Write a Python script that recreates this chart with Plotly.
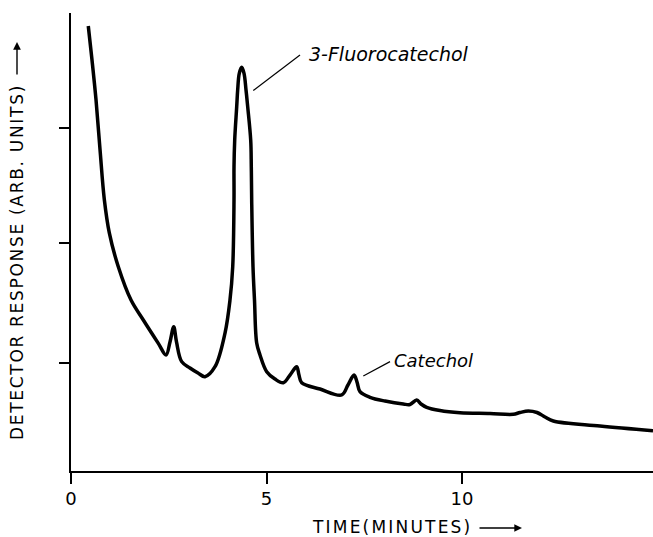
import plotly.graph_objects as go

# Chromatogram trace (time in minutes, response in arbitrary units)
time_min = [0.442, 0.537, 0.639, 0.742, 0.852, 0.980, 1.210, 1.535, 1.849, 2.233,
            2.430, 2.532, 2.627, 2.698, 2.831, 3.043, 3.248, 3.427, 3.683, 3.939,
            4.066, 4.136, 4.169, 4.169, 4.187, 4.238, 4.263, 4.304, 4.366, 4.425,
            4.476, 4.519, 4.596, 4.611, 4.621, 4.655, 4.693, 4.749, 4.834, 5.005,
            5.217, 5.430, 5.601, 5.772, 5.831, 5.900, 6.368, 6.923, 7.084, 7.238,
            7.315, 7.391, 7.647, 8.031, 8.499, 8.670, 8.841, 8.951, 9.097, 9.437,
            9.949, 10.716, 11.312, 11.483, 11.696, 11.918, 12.123, 12.335, 13.529, 14.885]
response = [3.886, 3.590, 3.245, 2.808, 2.371, 2.079, 1.784, 1.493, 1.319, 1.115,
            1.013, 1.127, 1.260, 1.127, 0.955, 0.900, 0.856, 0.824, 0.911, 1.205,
            1.493, 1.784, 2.367, 2.658, 2.891, 3.182, 3.328, 3.473, 3.526, 3.473,
            3.328, 3.182, 2.891, 2.658, 2.367, 1.782, 1.493, 1.118, 1.013, 0.867,
            0.803, 0.771, 0.838, 0.911, 0.838, 0.771, 0.716, 0.664, 0.751, 0.838,
            0.777, 0.693, 0.644, 0.611, 0.585, 0.581, 0.620, 0.585, 0.556, 0.528,
            0.509, 0.502, 0.495, 0.511, 0.524, 0.511, 0.472, 0.437, 0.393, 0.352]

x_tickvals = [0, 5, 10]
x_ticktext = ["0", "5", "10"]
y_tickvals = [0.943, 1.991, 2.996]

peak_labels = ["3-Fluorocatechol", "Catechol"]
x_title = "TIME(MINUTES)"
y_title = "DETECTOR RESPONSE (ARB. UNITS)"

FONT = "DejaVu Sans"

fig = go.Figure()
fig.add_trace(go.Scatter(
    x=time_min, y=response, mode="lines",
    line=dict(color="black", width=3.5, shape="spline", smoothing=1.0),
    hoverinfo="skip", showlegend=False,
))

# leader lines for peak labels
fig.add_shape(type="line", xref="x", yref="y", x0=5.857, y0=3.633, x1=4.662, y1=3.323,
              line=dict(color="black", width=1.2))
fig.add_shape(type="line", xref="x", yref="y", x0=7.476, y0=0.830, x1=8.159, y1=0.955,
              line=dict(color="black", width=1.2))

fig.add_annotation(x=6.04, y=3.642, xref="x", yref="y", text=peak_labels[0],
                   showarrow=False, xanchor="left", yanchor="middle",
                   font=dict(family=FONT, size=19, color="black", style="italic"))
fig.add_annotation(x=8.21, y=0.961, xref="x", yref="y", text=peak_labels[1],
                   showarrow=False, xanchor="left", yanchor="middle",
                   font=dict(family=FONT, size=18, color="black", style="italic"))

# axis titles as annotations (paper coords: plot area 71..653 x, 13..471 y)
def px_x(p):
    return (p - 71) / 582.0

def px_y(p):
    return (471 - p) / 458.0

fig.add_annotation(x=px_x(392), y=px_y(527), xref="paper", yref="paper",
                   text='<span style="letter-spacing:2.2px">' + x_title + '</span>',
                   showarrow=False, xanchor="center", yanchor="middle",
                   font=dict(family=FONT, size=17, color="black"))
fig.add_annotation(x=px_x(522), y=px_y(528), xref="paper", yref="paper", text="",
                   showarrow=True, ax=-44, ay=0, arrowhead=2, arrowsize=1.1,
                   arrowwidth=1.4, arrowcolor="black")
fig.add_annotation(x=px_x(17), y=px_y(262), xref="paper", yref="paper",
                   text='<span style="letter-spacing:1.7px">' + y_title + '</span>',
                   showarrow=False, textangle=-90, xanchor="center", yanchor="middle",
                   font=dict(family=FONT, size=17, color="black"))
fig.add_annotation(x=px_x(17), y=px_y(42), xref="paper", yref="paper", text="",
                   showarrow=True, ax=0, ay=34, arrowhead=2, arrowsize=1.1,
                   arrowwidth=1.4, arrowcolor="black")

fig.update_xaxes(range=[0, 582 / 39.1], showgrid=False, zeroline=False,
                 showline=True, linecolor="black", linewidth=1.5,
                 ticks="outside", ticklen=11, tickwidth=1.5, tickcolor="black",
                 tickvals=x_tickvals, ticktext=x_ticktext, ticklabelstandoff=0,
                 tickfont=dict(family=FONT, size=18, color="black"))
fig.update_yaxes(range=[0, 4.0], showgrid=False, zeroline=False,
                 showline=True, linecolor="black", linewidth=1.5,
                 ticks="outside", ticklen=10, tickwidth=1.5, tickcolor="black",
                 tickvals=y_tickvals, showticklabels=False)

fig.update_layout(width=653, height=537, margin=dict(l=71, r=0, t=13, b=66),
                  plot_bgcolor="white", paper_bgcolor="white")

fig.write_html("out.html")
